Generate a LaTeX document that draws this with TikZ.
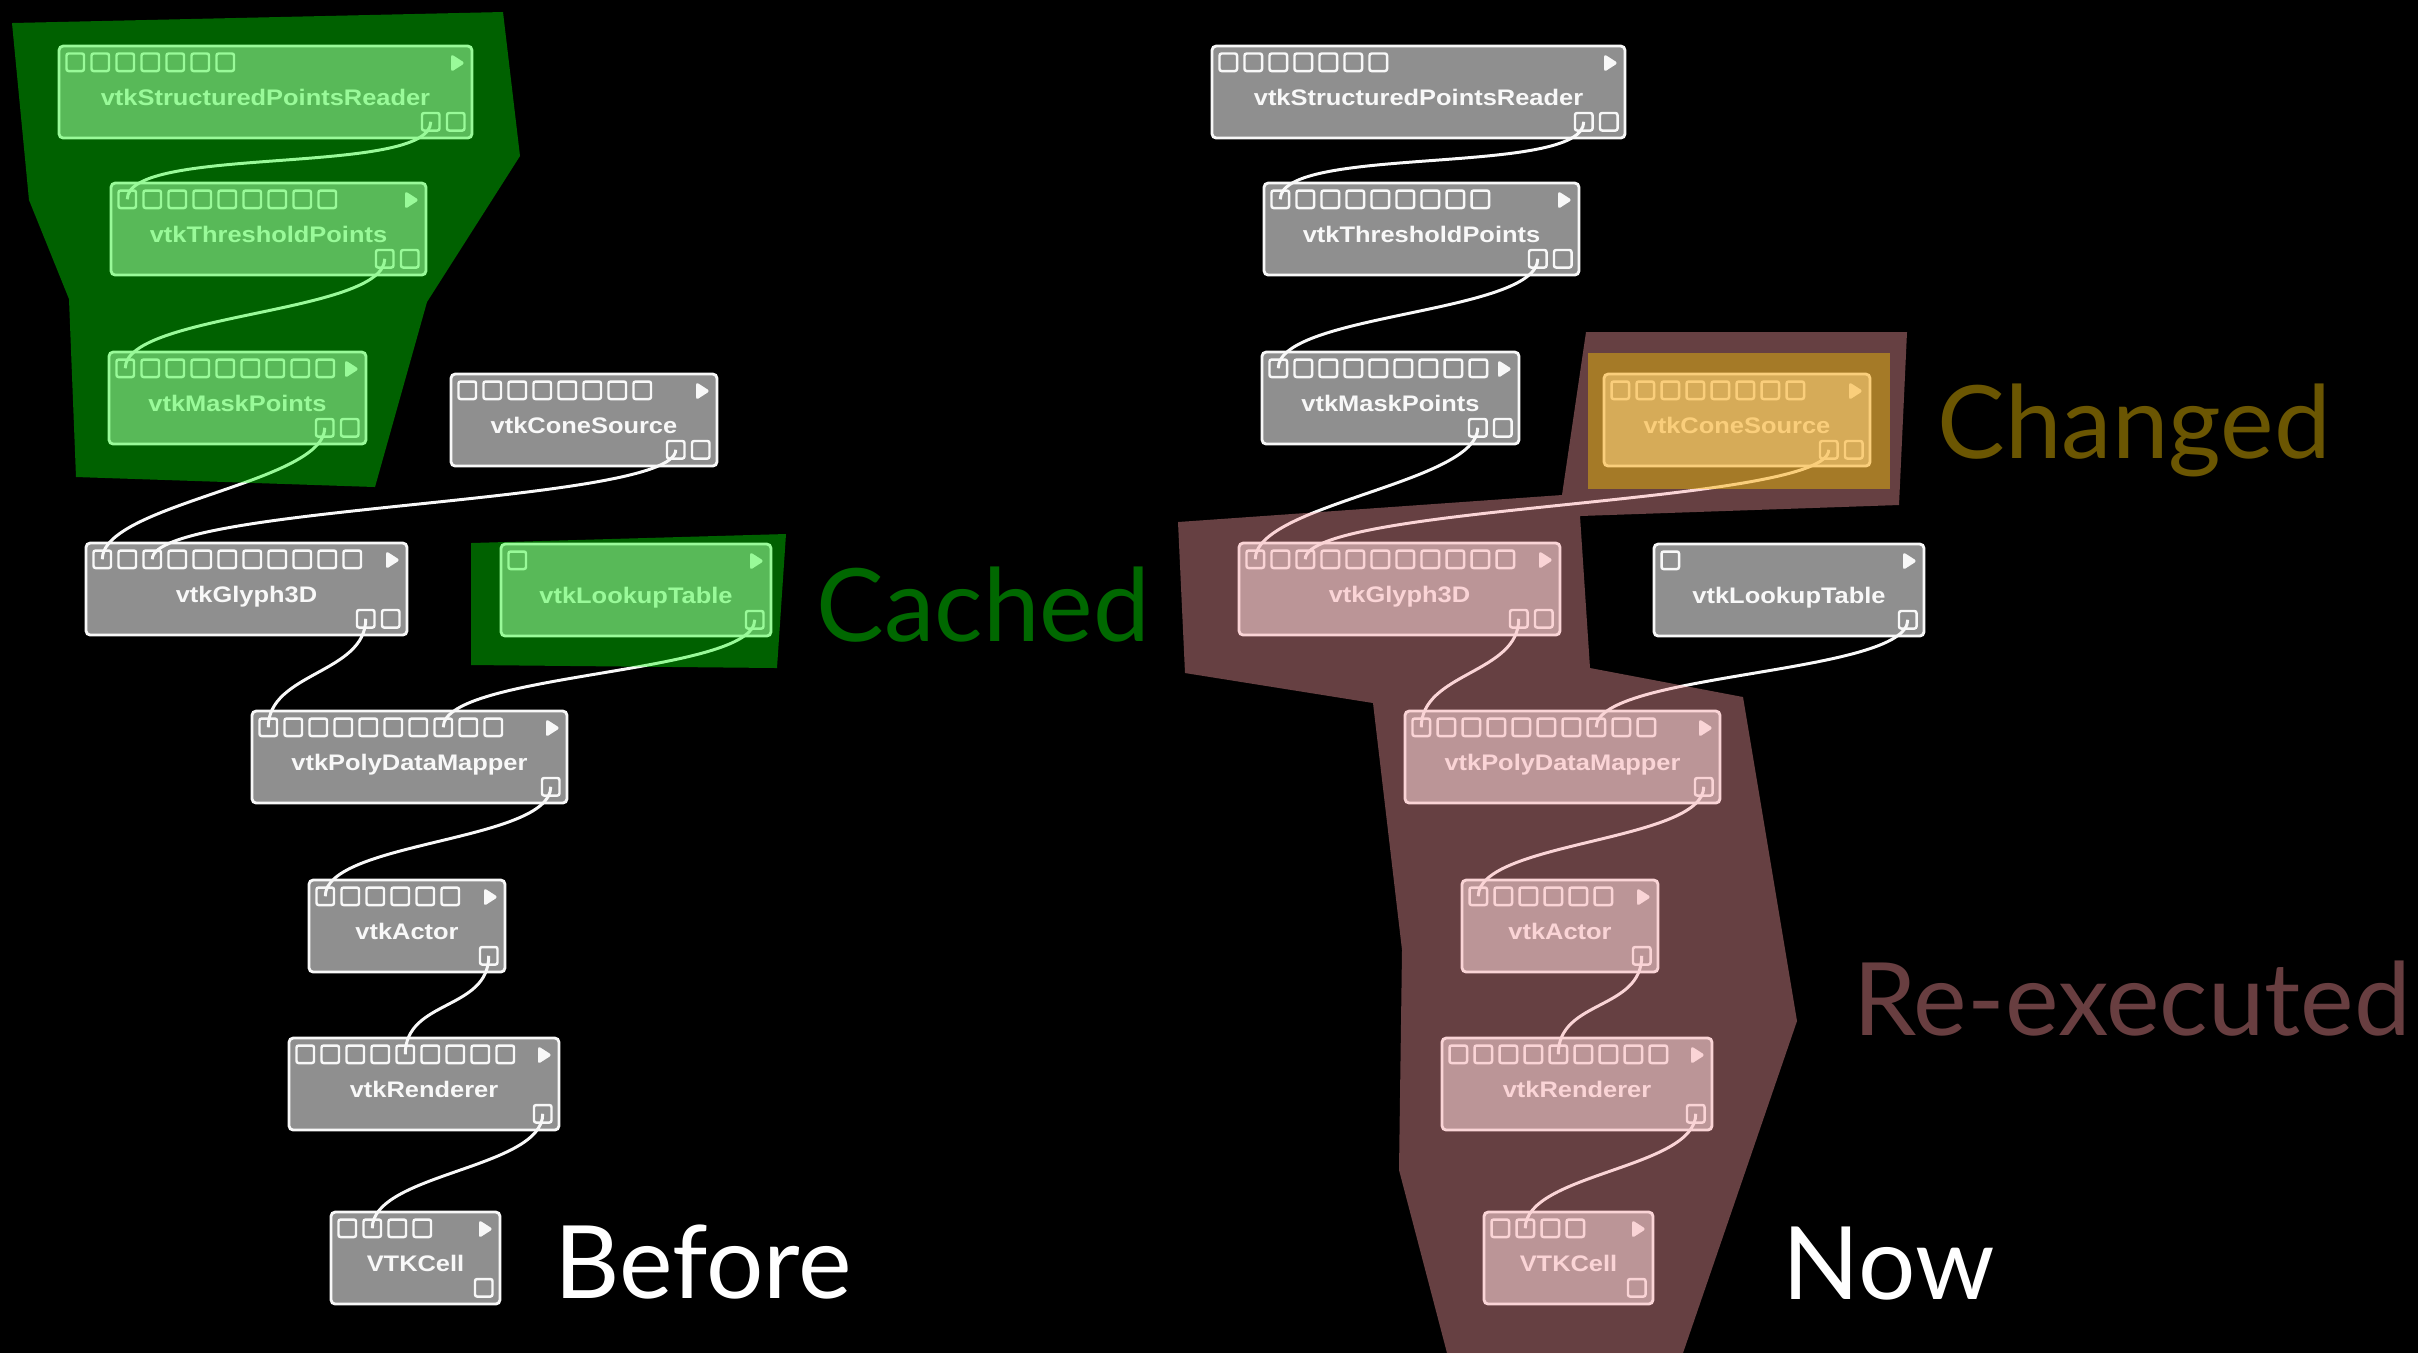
\documentclass[tikz,border=0pt]{standalone}
\usepackage{fontspec}
\newfontfamily\vtkfont{Liberation Sans}[FakeStretch=1.13]
\newfontfamily\slidefont{Lato}

\definecolor{boxgrey}{RGB}{143,143,143}
\definecolor{boxline}{RGB}{248,248,248}
\definecolor{cachedtint}{RGB}{0,255,0}
\definecolor{rerun}{RGB}{255,160,165}
\definecolor{changedtint}{RGB}{250,200,5}
\definecolor{cachedword}{RGB}{0,104,0}
\definecolor{changedword}{RGB}{107,86,2}
\definecolor{rerunword}{RGB}{104,62,64}

\tikzset{
  vbox/.style={draw=boxline, fill=boxgrey, line width=0.8pt, rounded corners=1.2pt,
    minimum height=0.92cm, inner sep=0pt, outer sep=0pt, text=boxline,
    font=\vtkfont\bfseries\fontsize{6.4}{7}\selectfont, text height=7.4pt, text depth=0pt},
  port/.style={draw=boxline, line width=0.7pt, rounded corners=0.6pt,
    minimum width=0.175cm, minimum height=0.175cm, inner sep=0pt, outer sep=0pt},
  wire/.style={draw=boxline, line width=0.85pt},
  bigword/.style={font=\slidefont\fontsize{28.8}{30}\selectfont, inner sep=0pt, anchor=base west},
}

% name, left, top, width, inputs, outputs, label
\newcommand\vtkbox[7]{%
  \node[vbox, anchor=north west, minimum width=#4*0.01cm] (#1) at (#2,#3) {#7};
  \foreach \k in {1,...,#5}
    \node[port, anchor=north west] (#1-i\k) at (#2+7.5+25*\k-25,#3+7.5) {};
  \foreach \k in {1,...,#6}
    \node[port, anchor=south east] (#1-o\k) at (#2+#4-7.5-25*#6+25*\k,#3+84.5) {};
  \fill[boxline, rounded corners=0.8pt] (#2+#4-21,#3+8) -- (#2+#4-7,#3+17)
    -- (#2+#4-21,#3+26) -- cycle;
}

% prefix, x offset
\newcommand\pipeline[2]{%
  \vtkbox{#1spr}{59+#2}{46}{413}{7}{2}{vtkStructuredPointsReader}
  \vtkbox{#1tp}{111+#2}{183}{315}{9}{2}{vtkThresholdPoints}
  \vtkbox{#1mp}{109+#2}{352}{257}{9}{2}{vtkMaskPoints}
  \vtkbox{#1cone}{451+#2}{374}{266}{8}{2}{vtkConeSource}
  \vtkbox{#1glyph}{86+#2}{543}{321}{11}{2}{vtkGlyph3D}
  \vtkbox{#1lut}{501+#2}{544}{270}{1}{1}{vtkLookupTable}
  \vtkbox{#1pdm}{252+#2}{711}{315}{10}{1}{vtkPolyDataMapper}
  \vtkbox{#1actor}{309+#2}{880}{196}{6}{1}{vtkActor}
  \vtkbox{#1ren}{289+#2}{1038}{270}{9}{1}{vtkRenderer}
  \vtkbox{#1cell}{331+#2}{1212}{169}{4}{1}{VTKCell}
  \draw[wire] (#1spr-o1.center) .. controls +(0,55) and +(0,-55) .. (#1tp-i1.center);
  \draw[wire] (#1tp-o1.center) .. controls +(0,55) and +(0,-55) .. (#1mp-i1.center);
  \draw[wire] (#1mp-o1.center) .. controls +(0,55) and +(0,-55) .. (#1glyph-i1.center);
  \draw[wire] (#1cone-o1.center) .. controls +(0,55) and +(0,-55) .. (#1glyph-i3.center);
  \draw[wire] (#1glyph-o1.center) .. controls +(0,55) and +(0,-55) .. (#1pdm-i1.center);
  \draw[wire] (#1lut-o1.center) .. controls +(0,55) and +(0,-55) .. (#1pdm-i8.center);
  \draw[wire] (#1pdm-o1.center) .. controls +(0,55) and +(0,-55) .. (#1actor-i1.center);
  \draw[wire] (#1actor-o1.center) .. controls +(0,55) and +(0,-55) .. (#1ren-i5.center);
  \draw[wire] (#1ren-o1.center) .. controls +(0,55) and +(0,-55) .. (#1cell-i2.center);
}

\begin{document}
\begin{tikzpicture}[x=0.01cm, y=-0.01cm]
  \fill[black] (0,0) rectangle (2418,1353);
  \useasboundingbox (0,0) rectangle (2418,1353);

  \pipeline{b}{0}
  \pipeline{n}{1153}

  % cached parts, before
  \fill[cachedtint, fill opacity=0.38] (12,23) -- (503,12) -- (520,156) -- (427,302)
    -- (375,487) -- (76,477) -- (69,299) -- (29,200) -- cycle;
  \fill[cachedtint, fill opacity=0.38] (471,543) -- (786,534) -- (777,668) -- (471,665) -- cycle;

  % re-executed parts, now
  \fill[rerun, fill opacity=0.4] (1178,522) -- (1562,495) -- (1586,332) -- (1907,332)
    -- (1899,505) -- (1580,516) -- (1590,668) -- (1743,697) -- (1797,1021)
    -- (1683,1353) -- (1447,1353) -- (1399,1170) -- (1402,950) -- (1373,703)
    -- (1185,673) -- cycle;
  \fill[changedtint, fill opacity=0.43] (1588,353) rectangle (1890,489);

  \node[bigword, text=cachedword] (cached) at (816,641) {Cached};
  \node[bigword, text=changedword] (changed) at (1937,458) {Changed};
  \node[bigword, text=rerunword] (reexec) at (1853,1035) {Re-executed};
  \node[bigword, text=white] (before) at (554,1298) {Before};
  \node[bigword, text=white] (now) at (1782,1299) {Now};
\end{tikzpicture}
\end{document}
